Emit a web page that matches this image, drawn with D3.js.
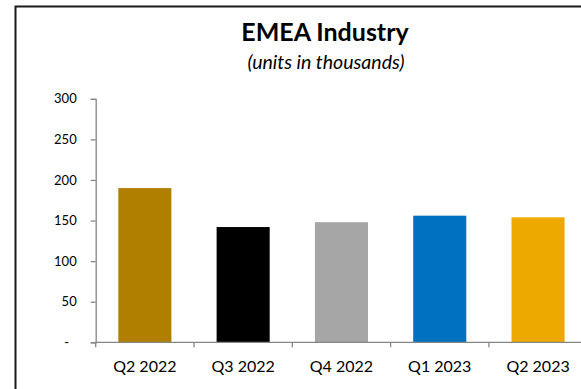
<!DOCTYPE html>
<html>
<head>
<meta charset="utf-8">
<script src="https://cdn.jsdelivr.net/npm/d3@7"></script>
<style>
  html, body { margin: 0; padding: 0; background: #fff; }
  svg { display: block; }
  text { font-family: Lato, "Open Sans", sans-serif; fill: #000; }
</style>
</head>
<body>
<svg id="chart" width="581" height="389"></svg>
<script>
// Quarterly EMEA industry volume, units in thousands
const quarters = ["Q2 2022", "Q3 2022", "Q4 2022", "Q1 2023", "Q2 2023"];
const units = [190, 142, 148, 156, 154];
const barColors = ["#B07F00", "#000000", "#A6A6A6", "#0070C0", "#EEA900"];
const yTicks = [0, 50, 100, 150, 200, 250, 300];
const titleText = "EMEA Industry";
const subtitleText = "(units in thousands)";

const svg = d3.select("#chart");

// Outer chart frame (extends past the right and bottom of the view)
svg.append("rect")
  .attr("x", 15.5).attr("y", 6.5)
  .attr("width", 640).attr("height", 420)
  .attr("fill", "#fff")
  .attr("stroke", "#1a1a1a")
  .attr("stroke-width", 2);

const plot = { left: 95.7, right: 587.2, top: 98.8, bottom: 342.3 };

const x = d3.scaleBand()
  .domain(quarters)
  .range([plot.left, plot.right])
  .paddingInner(0.46)
  .paddingOuter(0.23);

const y = d3.scaleLinear()
  .domain([0, 300])
  .range([plot.bottom, plot.top]);

// Bars
svg.append("g")
  .selectAll("rect")
  .data(quarters)
  .join("rect")
  .attr("x", d => x(d))
  .attr("width", x.bandwidth())
  .attr("y", (d, i) => y(units[i]))
  .attr("height", (d, i) => y(0) - y(units[i]))
  .attr("fill", (d, i) => barColors[i]);

// Y axis (zero shown as an accounting-style dash)
const yAxis = svg.append("g")
  .attr("transform", `translate(${plot.left},0)`)
  .call(d3.axisLeft(y)
    .tickValues(yTicks)
    .tickSize(5)
    .tickPadding(14)
    .tickFormat(d => d === 0 ? "-" : d3.format("d")(d)));
yAxis.select(".domain").attr("stroke", "#868686").attr("stroke-width", 1.3);
yAxis.selectAll(".tick line").attr("stroke", "#868686").attr("stroke-width", 1.3);
yAxis.selectAll(".tick text")
  .style("font-family", "Lato, sans-serif")
  .style("font-size", "13px")
  .attr("fill", "#000")
  .attr("dx", d => d === 0 ? -7.5 : 0);

// X axis with tick marks on the category boundaries
const xAxisG = svg.append("g")
  .attr("transform", `translate(0,${plot.bottom})`);
xAxisG.append("line")
  .attr("x1", plot.left).attr("x2", plot.right)
  .attr("stroke", "#868686").attr("stroke-width", 1.3);
const step = x.step();
const bounds = d3.range(quarters.length + 1).map(i => plot.left + i * step);
xAxisG.selectAll("line.bound")
  .data(bounds)
  .join("line")
  .attr("class", "bound")
  .attr("x1", d => d).attr("x2", d => d)
  .attr("y1", 0).attr("y2", 5)
  .attr("stroke", "#868686").attr("stroke-width", 1.3);
xAxisG.selectAll("text")
  .data(quarters)
  .join("text")
  .attr("x", d => x(d) + x.bandwidth() / 2)
  .attr("y", 30)
  .attr("text-anchor", "middle")
  .style("font-size", "16px")
  .text(d => d);

// Titles
svg.append("text")
  .attr("x", 325).attr("y", 41)
  .attr("text-anchor", "middle")
  .style("font-size", "25px")
  .style("font-weight", "bold")
  .text(titleText);
svg.append("text")
  .attr("x", 326).attr("y", 69)
  .attr("text-anchor", "middle")
  .style("font-size", "19.5px")
  .style("font-style", "italic")
  .text(subtitleText);
</script>
</body>
</html>
